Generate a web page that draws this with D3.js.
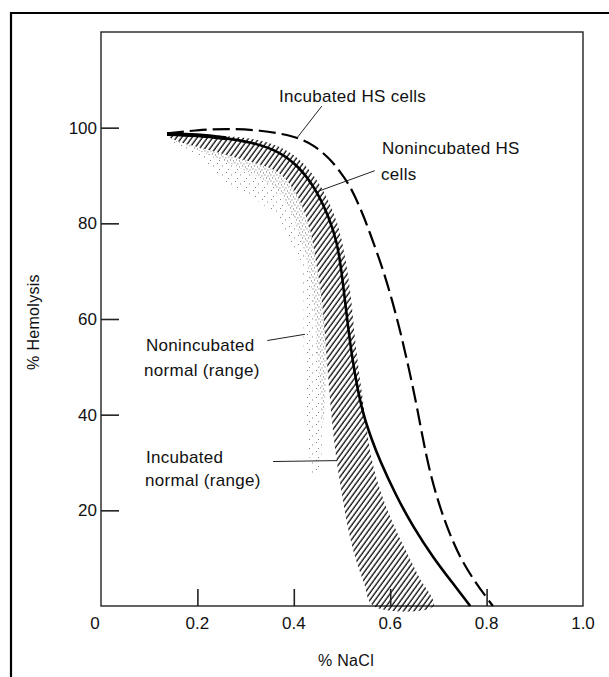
<!DOCTYPE html>
<html><head><meta charset="utf-8">
<script src="https://cdn.jsdelivr.net/npm/d3@7"></script>
<style>
html,body{margin:0;padding:0;background:#fff;}
svg{display:block;}
text{font-family:"Liberation Sans",Arial,sans-serif;fill:#111;}
</style></head>
<body>
<svg id="chart" width="609" height="677"></svg>
<script>
// ---- data (% NaCl vs % hemolysis) ----
const xTicks = [0.2, 0.4, 0.6, 0.8];
const xLabelValues = [0, 0.2, 0.4, 0.6, 0.8, 1.0];
const xTickLabels = ["0", "0.2", "0.4", "0.6", "0.8", "1.0"];
const yTicks = [20, 40, 60, 80, 100];

// Nonincubated HS cells (solid)
const nonIncHS = [[0.137,98.7],[0.2,98.4],[0.26,97.8],[0.31,97],[0.365,95.3],[0.41,92],[0.447,87],[0.474,81],[0.49,76],[0.499,70],[0.506,64],[0.513,58],[0.521,52],[0.531,46],[0.544,40],[0.561,35],[0.578,30.5],[0.61,23.5],[0.647,16.6],[0.69,10],[0.728,5],[0.766,0]];
// Incubated HS cells (dashed)
const incHS = [[0.137,98.8],[0.2,99.5],[0.26,99.8],[0.33,99.5],[0.40,98.3],[0.44,96.5],[0.475,93.5],[0.496,90.8],[0.517,87.8],[0.539,83],[0.558,78],[0.583,71],[0.604,64],[0.622,57],[0.638,50],[0.655,42],[0.674,31.5],[0.694,23.5],[0.717,16.6],[0.745,10],[0.776,5],[0.813,0]];
// Incubated normal (range): hatched band, upper/right edge and lower/left edge
const incNormUpper = [[0.14,98.5],[0.25,98.3],[0.33,97.3],[0.38,95.5],[0.42,92.5],[0.46,87],[0.49,80],[0.508,72],[0.519,64],[0.528,55],[0.538,47],[0.549,39],[0.561,31],[0.58,24],[0.607,17],[0.633,11.5],[0.66,6],[0.69,0]];
const incNormLower = [[0.14,98],[0.164,97],[0.27,94],[0.365,90.8],[0.40,87],[0.43,80],[0.446,72],[0.458,64],[0.468,52],[0.478,40],[0.488,31],[0.499,24],[0.513,16],[0.528,10],[0.545,5],[0.565,0]];
// Nonincubated normal (range): stippled band, inner (dense) and outer (sparse) edges
const nonIncNormMid = [[0.15,97.3],[0.22,94.5],[0.3,91],[0.36,87.5],[0.395,82],[0.425,73],[0.44,64],[0.447,55],[0.455,45],[0.46,38]];
const nonIncNormOuter = [[0.14,97.5],[0.2,94],[0.26,88.6],[0.32,85],[0.365,81.6],[0.395,76],[0.413,72.5],[0.42,64],[0.42,55],[0.425,45],[0.43,35],[0.44,27],[0.452,28],[0.46,38]];

const svg = d3.select("#chart");
const x = d3.scaleLinear().domain([0, 1]).range([101, 583]);
const y = d3.scaleLinear().domain([0, 120]).range([606, 32]);

const defs = svg.append("defs");
const hatch = defs.append("pattern").attr("id","hatch").attr("patternUnits","userSpaceOnUse")
  .attr("width",4.2).attr("height",10).attr("patternTransform","rotate(36)");
hatch.append("line").attr("x1",1).attr("y1",-1).attr("x2",1).attr("y2",11)
  .attr("stroke","#000").attr("stroke-width",1.25);
const dense = defs.append("pattern").attr("id","dense").attr("patternUnits","userSpaceOnUse")
  .attr("width",6).attr("height",6);
[[0.5,0.5],[3.5,1.5],[2,3.5],[5,4.5]].forEach(p=>dense.append("rect").attr("x",p[0]).attr("y",p[1])
  .attr("width",0.9).attr("height",0.9).attr("fill","#444"));
const sparse = defs.append("pattern").attr("id","sparse").attr("patternUnits","userSpaceOnUse")
  .attr("width",9).attr("height",9);
[[1,1],[6,3.5],[3,7]].forEach(p=>sparse.append("rect").attr("x",p[0]).attr("y",p[1])
  .attr("width",0.9).attr("height",0.9).attr("fill","#666"));

// outer frame (top & left)
svg.append("path").attr("d","M11,690 L11,13 L620,13").attr("fill","none").attr("stroke","#000").attr("stroke-width",2.2);

// plot frame
svg.append("rect").attr("x",x(0)).attr("y",y(120)).attr("width",x(1)-x(0)).attr("height",y(0)-y(120))
  .attr("fill","none").attr("stroke","#222").attr("stroke-width",1.4);

const pts = d3.line().x(d=>x(d[0])).y(d=>y(d[1])).curve(d3.curveCatmullRom.alpha(0.5));
const smooth = d3.line().x(d=>x(d[0])).y(d=>y(d[1])).curve(d3.curveBasis);

// stippled region: sparse outer part then dense inner strip
svg.append("path").attr("d", pts(nonIncNormOuter.concat(nonIncNormMid.slice().reverse())) + "Z")
  .attr("fill","url(#sparse)");
svg.append("path").attr("d", pts(nonIncNormMid.concat(incNormLower.slice(0,9).reverse())) + "Z")
  .attr("fill","url(#dense)");

// hatched region
svg.append("path").attr("d", pts(incNormUpper.concat(incNormLower.slice().reverse())) + "Z")
  .attr("fill","url(#hatch)");

// curves
svg.append("path").attr("d", smooth(nonIncHS)).attr("fill","none").attr("stroke","#000").attr("stroke-width",2.6);
svg.append("path").attr("d", pts(nonIncHS.slice(0,3))).attr("fill","none").attr("stroke","#000").attr("stroke-width",4);
svg.append("path").attr("d", smooth(incHS)).attr("fill","none").attr("stroke","#000").attr("stroke-width",2.2)
  .attr("stroke-dasharray","17,6");

// ticks
svg.append("g").attr("transform",`translate(${x(0)},0)`)
  .call(d3.axisRight(y).tickValues(yTicks).tickSize(18).tickFormat(""))
  .call(g=>{g.select(".domain").remove(); g.selectAll("line").attr("stroke","#222").attr("stroke-width",1.6);});
svg.append("g").attr("transform",`translate(0,${y(0)})`)
  .call(d3.axisTop(x).tickValues(xTicks).tickSize(17).tickFormat(""))
  .call(g=>{g.select(".domain").remove(); g.selectAll("line").attr("stroke","#222").attr("stroke-width",1.6);});

// tick labels
svg.selectAll(".ylab").data(yTicks).join("text").attr("class","ylab")
  .attr("x",x(0)-4).attr("y",d=>y(d)+6).attr("text-anchor","end").attr("font-size",17).text(d=>d);
svg.selectAll(".xlab").data(xLabelValues).join("text").attr("class","xlab")
  .attr("x",(d,i)=> i===0 ? x(d)-6 : x(d)).attr("y",629).attr("text-anchor","middle").attr("font-size",17)
  .text((d,i)=>xTickLabels[i]);

// axis titles
svg.append("text").attr("transform","translate(39,322) rotate(-90)").attr("text-anchor","middle")
  .attr("font-size",16).attr("letter-spacing",0.3).text("% Hemolysis");
svg.append("text").attr("x",346).attr("y",666).attr("text-anchor","middle")
  .attr("font-size",16).attr("letter-spacing",0.3).text("% NaCl");

// annotations
const ann = svg.append("g").attr("font-size",17).attr("letter-spacing",0.3);
function txt(s, tx, ty){ ann.append("text").attr("x",tx).attr("y",ty).text(s); }
txt("Incubated HS cells", 279, 102);
txt("Nonincubated HS", 382, 154);
txt("cells", 381, 180);
txt("Nonincubated", 146, 351);
txt("normal (range)", 144, 376);
txt("Incubated", 146, 463);
txt("normal (range)", 145, 486);
const leaders = [[[0.458,104.5],[0.407,97.9]],[[0.568,91],[0.448,86.6]],[[0.345,55.5],[0.423,56.8]],[[0.357,30.2],[0.49,30.4]]];
leaders.forEach(l=>svg.append("line").attr("x1",x(l[0][0])).attr("y1",y(l[0][1])).attr("x2",x(l[1][0])).attr("y2",y(l[1][1]))
  .attr("stroke","#222").attr("stroke-width",1));
</script>
</body></html>
